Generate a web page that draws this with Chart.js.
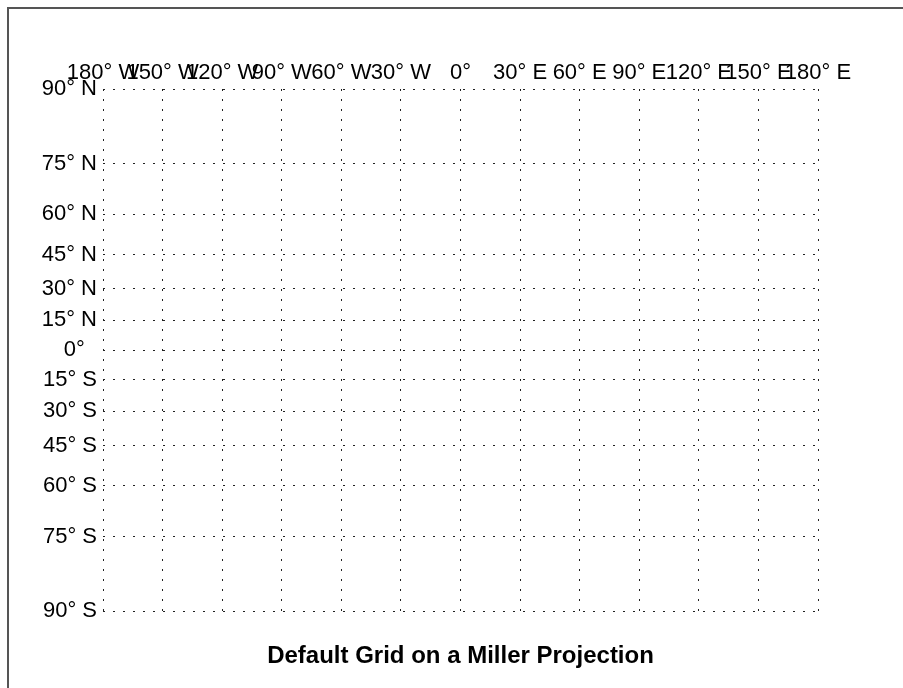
<!DOCTYPE html>
<html>
<head>
<meta charset="utf-8">
<script src="https://cdn.jsdelivr.net/npm/chart.js@4.4.0/dist/chart.umd.min.js"></script>
<style>
  html, body { margin: 0; padding: 0; background: #fff; }
  canvas { display: block; }
</style>
</head>
<body>
<canvas id="chartGrid" width="903" height="688"></canvas>
<script>
// meridians and parallels of the default grid
const lonTicks = [-180, -150, -120, -90, -60, -30, 0, 30, 60, 90, 120, 150, 180];
const lonLabels = ['180° W', '150° W', '120° W', '90° W', '60° W', '30° W', '0°', '30° E', '60° E', '90° E', '120° E', '150° E', '180° E'];
const latTicks = [-90, -75, -60, -45, -30, -15, 0, 15, 30, 45, 60, 75, 90];
const latLabels = ['90° S', '75° S', '60° S', '45° S', '30° S', '15° S', '0°  ', '15° N', '30° N', '45° N', '60° N', '75° N', '90° N'];

// Miller cylindrical projection of latitude
function miller(lat) {
    return 1.25 * Math.log(Math.tan(Math.PI / 4 + 0.4 * lat * Math.PI / 180));
}

const labelFont = { family: "'Liberation Sans', Arial, sans-serif", size: 22 };

// outer frame of the figure
const framePlugin = {
    id: 'frame',
    beforeDraw(chart) {
        const ctx = chart.ctx;
        ctx.save();
        ctx.strokeStyle = '#555';
        ctx.lineWidth = 2;
        ctx.beginPath();
        ctx.moveTo(8, chart.height);
        ctx.lineTo(8, 8);
        ctx.lineTo(chart.width, 8);
        ctx.stroke();
        ctx.restore();
    }
};

const cvsGrid = document.getElementById('chartGrid').getContext('2d');
const chartGrid = new Chart(cvsGrid, {
    type: 'scatter',
    data: {
        datasets: [{ data: [] }]
    },
    plugins: [framePlugin],
    options: {
        responsive: false,
        animation: false,
        layout: {
            padding: { left: 0, top: 0, right: 85, bottom: 0 }
        },
        scales: {
            x: {
                type: 'linear',
                position: 'top',
                min: -180,
                max: 180,
                afterBuildTicks: (scale) => {
                    scale.ticks = lonTicks.map(v => ({ value: v }));
                },
                afterFit: (scale) => { scale.height = 89; },
                ticks: {
                    autoSkip: false,
                    maxRotation: 0,
                    minRotation: 0,
                    padding: 3,
                    color: '#000',
                    font: labelFont,
                    callback: (value, index) => lonLabels[index]
                },
                grid: {
                    drawTicks: false,
                    color: '#222',
                    lineWidth: 1
                },
                border: { display: false, dash: [2, 8] }
            },
            y: {
                type: 'linear',
                min: miller(-90),
                max: miller(90),
                afterBuildTicks: (scale) => {
                    scale.ticks = latTicks.map(v => ({ value: miller(v) }));
                },
                afterFit: (scale) => { scale.width = 103; },
                ticks: {
                    autoSkip: false,
                    padding: 6,
                    color: '#000',
                    font: labelFont,
                    callback: (value, index) => latLabels[index]
                },
                grid: {
                    drawTicks: false,
                    color: '#222',
                    lineWidth: 1
                },
                border: { display: false, dash: [2, 8] }
            }
        },
        plugins: {
            legend: { display: false },
            tooltip: { enabled: false },
            title: {
                display: true,
                position: 'bottom',
                fullSize: false,
                text: 'Default Grid on a Miller Projection',
                color: '#000',
                font: { family: "'Liberation Sans', Arial, sans-serif", size: 24, weight: 'bold' },
                padding: { top: 31, bottom: 17 }
            }
        }
    }
});
</script>
</body>
</html>
